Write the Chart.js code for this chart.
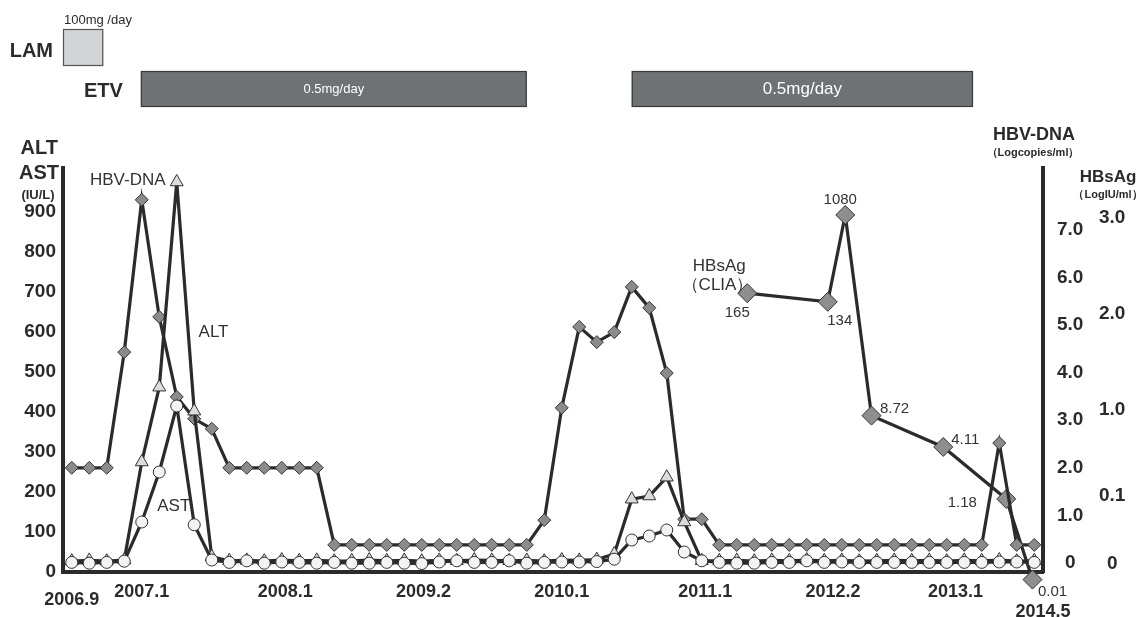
<!DOCTYPE html>
<html><head><meta charset="utf-8">
<script src="https://cdn.jsdelivr.net/npm/chart.js@4.4.1/dist/chart.umd.min.js"></script>
<style>html,body{margin:0;padding:0;background:#fff}canvas{display:block}</style>
</head><body>
<canvas id="c" width="1143" height="617"></canvas>
<script>
// ---- data (visit index 0..55) ----
const visits = Array.from({length: 56}, (_, i) => i);
const astValues = [24,22,24,27,125,250,415,118,30,24, 28,22,25,24,22,24,22,22,24,22,
                   21,25,28,24,24,28,22,24,25,25, 26,32,80,90,105,50,28,24,22,22,
                   24,24,28,24,25,24,24,24,24,24, 24,24,24,25,25,24];
const altValues = [27,29,27,30,275,462,975,402,38,28, 29,27,30,28,29,27,28,30,28,29,
                   27,29,28,30,29,28,29,27,30,29, 31,45,182,190,237,125,28,28,29,27,
                   29,28,30,28,29,27,28,29,28,29, 27,29,28,30,27,28];
const dnaValues = [2.0,2.0,2.0,4.43,7.63,5.17,3.49,3.03,2.82,2.0, 2.0,2.0,2.0,2.0,2.0,0.38,0.38,0.38,0.38,0.38,
                   0.38,0.38,0.38,0.38,0.38,0.38,0.38,0.9,3.26,4.96, 4.64,4.85,5.8,5.36,3.99,0.92,0.92,0.38,0.38,0.38,
                   0.38,0.38,0.38,0.38,0.38,0.38,0.38,0.38,0.38,0.38, 0.38,0.38,0.38,2.52,0.38,0.38];
const hbsagVisit = [38.6, 43.2, 44.2, 45.7, 49.8, 53.4, 54.9];
const hbsagValues = [165, 134, 1080, 8.72, 4.11, 1.18, 0.17];   // IU/ml as plotted
const hbsagLabels = ['165', '134', '1080', '8.72', '4.11', '1.18', '0.01'];

const xTickPos = [0, 4, 12.2, 20.1, 28, 36.2, 43.5, 50.5, 55.5];
const xTickLabels = ['2006.9', '2007.1', '2008.1', '2009.2', '2010.1', '2011.1', '2012.2', '2013.1', '2014.5'];
const leftTicks = [0, 100, 200, 300, 400, 500, 600, 700, 800, 900];
const dnaTicks = [0, 1, 2, 3, 4, 5, 6, 7];
const dnaTickLabels = ['0', '1.0', '2.0', '3.0', '4.0', '5.0', '6.0', '7.0'];
const hbsTicks = [1000, 100, 10, 1.26, 0.25];
const hbsTickLabels = ['3.0', '2.0', '1.0', '0.1', '0'];

const treatNames = ['LAM', 'ETV', 'ETV'];
const treatStart = [-0.5, 3.95, 32];
const treatEnd = [1.8, 26, 51.5];
const treatDose = ['100mg /day', '0.5mg/day', '0.5mg/day'];

// ---- drawing ----
const FONT = '"Liberation Sans", Arial, sans-serif';
const INK = '#2b2b2b';
const pts = (xs, ys) => ys.map((v, i) => ({x: xs[i], y: v}));

const extras = {
  id: 'extras',
  afterDraw(chart) {
    const ctx = chart.ctx, x = chart.scales.x, yL = chart.scales.yL;
    ctx.save();
    // treatment bars
    treatNames.forEach((name, i) => {
      const x0 = x.getPixelForValue(treatStart[i]), x1 = x.getPixelForValue(treatEnd[i]);
      const isLam = name === 'LAM';
      const top = isLam ? 29 : 71, bot = isLam ? 66 : 107;
      ctx.fillStyle = isLam ? '#d3d4d5' : '#6f7274';
      ctx.fillRect(x0, top, x1 - x0, bot - top);
      ctx.strokeStyle = isLam ? '#555' : '#3a3a3a';
      ctx.lineWidth = 1.2;
      ctx.strokeRect(x0 + 0.5, top + 0.5, x1 - x0 - 1, bot - top - 1);
      if (isLam) {
        ctx.fillStyle = INK; ctx.textAlign = 'left'; ctx.textBaseline = 'middle';
        ctx.font = '13px ' + FONT;
        ctx.fillText(treatDose[i], x0 + 1, 20);
        ctx.font = 'bold 20px ' + FONT; ctx.textAlign = 'right';
        ctx.fillText(name, x0 - 10, 51);
      } else {
        ctx.fillStyle = '#fff'; ctx.textAlign = 'center'; ctx.textBaseline = 'middle';
        ctx.font = (i === 1 ? '13px ' : '17px ') + FONT;
        ctx.fillText(treatDose[i], (x0 + x1) / 2, 89);
        if (i === 1) {
          ctx.fillStyle = INK; ctx.font = 'bold 20px ' + FONT; ctx.textAlign = 'right';
          ctx.fillText(name, x0 - 18, 91);
        }
      }
    });
    // axis titles
    ctx.fillStyle = INK; ctx.textBaseline = 'middle';
    ctx.textAlign = 'right'; ctx.font = 'bold 20px ' + FONT;
    ctx.fillText('ALT', 58, 148);
    ctx.fillText('AST', 59, 173);
    ctx.textAlign = 'center'; ctx.font = 'bold 13px ' + FONT;
    ctx.fillText('(IU/L)', 38, 195);
    ctx.font = 'bold 18px ' + FONT;
    ctx.fillText('HBV-DNA', 1034, 135);
    ctx.font = 'bold 11px ' + FONT;
    ctx.fillText('\uFF08Logcopies/ml\uFF09', 1033, 153);
    ctx.font = 'bold 17px ' + FONT;
    ctx.fillText('HBsAg', 1108, 177);
    ctx.font = 'bold 11px ' + FONT;
    ctx.fillText('\uFF08LogIU/ml\uFF09', 1108, 195);
    // series notes
    ctx.font = '17px ' + FONT; ctx.fillStyle = '#333';
    const notes = [['HBV-DNA', 3.2, 980], ['ALT', 8.1, 600], ['AST', 5.83, 165], ['HBsAg', 37.0, 763], ['\uFF08CLIA\uFF09', 36.9, 717]];
    notes.forEach(([t, vx, vy]) => ctx.fillText(t, x.getPixelForValue(vx), yL.getPixelForValue(vy)));
    // HBsAg value labels
    const meta = chart.getDatasetMeta(3);
    const offs = [[-10, 20], [12, 19], [-5, -15], [23, -7], [22, -7], [-44, 4], [20, 12]];
    ctx.font = '15px ' + FONT;
    meta.data.forEach((p, i) => ctx.fillText(hbsagLabels[i], p.x + offs[i][0], p.y + offs[i][1]));
    ctx.restore();
  }
};

const lineDs = (label, data, axis, style, radius, fill) => ({
  label, data, yAxisID: axis, borderColor: INK, borderWidth: 3.2, tension: 0, clip: false,
  pointStyle: style, pointRadius: radius, pointBackgroundColor: fill,
  pointBorderColor: '#333', pointBorderWidth: 1
});

const noGrid = {display: false, drawTicks: false};
const border = {display: true, color: INK, width: 4};

new Chart(document.getElementById('c'), {
  type: 'line',
  data: {
    datasets: [
      lineDs('AST', pts(visits, astValues), 'yL', 'circle', 6, '#f3f3f3'),
      lineDs('ALT', pts(visits, altValues), 'yL', 'triangle', 7.5, '#dcdcdc'),
      lineDs('HBV-DNA', pts(visits, dnaValues), 'yD', 'rectRot', 6.5, '#8b8b8b'),
      lineDs('HBsAg', pts(hbsagVisit, hbsagValues), 'yH', 'rectRot', 9.5, '#8e8e8e')
    ]
  },
  options: {
    responsive: false, animation: false, devicePixelRatio: 1,
    layout: {padding: {top: 168, left: 0, right: 0, bottom: 0}},
    plugins: {legend: {display: false}, tooltip: {enabled: false}},
    scales: {
      x: {
        type: 'linear', position: 'bottom', min: -0.5, max: 55.5,
        grid: noGrid, border: border,
        afterFit: s => { s.height = 45; },
        afterBuildTicks: s => { s.ticks = xTickPos.map(v => ({value: v})); },
        ticks: {
          padding: 11, color: INK, autoSkip: false, maxRotation: 0,
          font: c => ({family: FONT, size: 18, weight: 'bold',
                       lineHeight: c.index === 0 ? 0.63 : (c.index === 8 ? 1.07 : 1)}),
          callback: (v, i) => (i === 0 || i === 8) ? ['', xTickLabels[i]] : xTickLabels[i]
        }
      },
      yL: {
        type: 'linear', position: 'left', min: 0, max: 1010,
        grid: noGrid, border: border,
        afterFit: s => { s.width = 63; },
        afterBuildTicks: s => { s.ticks = leftTicks.map(v => ({value: v})); },
        ticks: {padding: 7, color: INK, font: {family: FONT, size: 19, weight: 'bold'},
                callback: (v, i) => String(leftTicks[i])}
      },
      yD: {
        type: 'linear', position: 'right', min: -0.189, max: 8.298, weight: 0,
        grid: noGrid, border: border,
        afterFit: s => { s.width = 50; },
        afterBuildTicks: s => { s.ticks = dnaTicks.map(v => ({value: v})); },
        ticks: {padding: 14, crossAlign: 'center', color: INK, font: {family: FONT, size: 19, weight: 'bold'},
                callback: (v, i) => dnaTickLabels[i]}
      },
      yH: {
        type: 'logarithmic', position: 'right', min: 0.204, max: 3334, weight: 1,
        grid: noGrid, border: {display: false},
        afterFit: s => { s.width = 50; },
        afterBuildTicks: s => { s.ticks = hbsTicks.map(v => ({value: v})); },
        ticks: {padding: 6, crossAlign: 'center', color: INK, font: {family: FONT, size: 19, weight: 'bold'},
                callback: (v, i) => hbsTickLabels[i]}
      }
    }
  },
  plugins: [extras]
});
</script>
</body></html>
